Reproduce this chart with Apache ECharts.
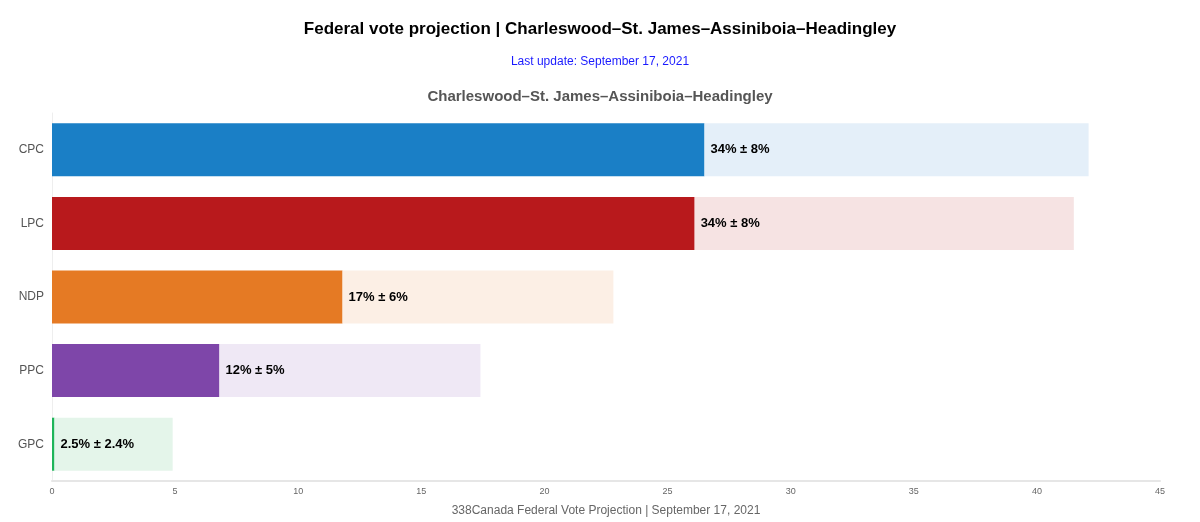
<!DOCTYPE html>
<html>
<head>
<meta charset="utf-8">
<title>Federal vote projection</title>
<script src="https://cdn.jsdelivr.net/npm/echarts@6/dist/echarts.min.js"></script>
<style>
  html, body { margin: 0; padding: 0; background: #fff; }
  #chart { width: 1200px; height: 522px; }
</style>
</head>
<body>
<div id="chart"></div>
<script>
// parties, top to bottom
const parties = ['CPC', 'LPC', 'NDP', 'PPC', 'GPC'];
// projected share and margin (label text)
const projected = ['34', '34', '17', '12', '2.5'];
const margins = ['8', '8', '6', '5', '2.4'];
// low end of the range (solid bar) and high end (pale bar end)
const lowValues = [26.5, 26.1, 11.8, 6.8, 0.1];
const highValues = [42.1, 41.5, 22.8, 17.4, 4.9];
const xTicks = [0, 5, 10, 15, 20, 25, 30, 35, 40, 45];

const solidColors = ['#1a7fc6', '#b8191c', '#e57a24', '#7e46a9', '#1fb55a'];
const paleColors = ['#e4eff9', '#f6e3e3', '#fcefe5', '#efe8f5', '#e4f5ea'];

const font = '"Liberation Sans", Arial, sans-serif';

const chart = echarts.init(document.getElementById('chart'));

const option = {
  backgroundColor: '#fff',
  animation: false,
  textStyle: { fontFamily: font },
  title: [
    {
      text: 'Federal vote projection | Charleswood–St. James–Assiniboia–Headingley',
      left: 'center',
      top: 16,
      textStyle: { fontFamily: font, fontSize: 17, fontWeight: 'bold', color: '#000' }
    },
    {
      text: 'Last update: September 17, 2021',
      left: 'center',
      top: 51,
      textStyle: { fontFamily: font, fontSize: 12, fontWeight: 'normal', color: '#1a1aff' }
    },
    {
      text: 'Charleswood–St. James–Assiniboia–Headingley',
      left: 'center',
      top: 84,
      textStyle: { fontFamily: font, fontSize: 15, fontWeight: 'bold', color: '#555' }
    }
  ],
  grid: {
    left: 52,
    right: 40,
    top: 113,
    bottom: 37
  },
  xAxis: {
    type: 'value',
    min: 0,
    max: 45,
    interval: 5,
    name: '338Canada Federal Vote Projection | September 17, 2021',
    nameLocation: 'middle',
    nameGap: 24,
    nameTextStyle: { fontFamily: font, fontSize: 12, color: '#666' },
    axisLine: { show: true, lineStyle: { color: '#e6e6e6', width: 2 } },
    axisTick: { show: false },
    splitLine: { show: false },
    axisLabel: {
      color: '#666',
      fontSize: 9,
      margin: 6,
      formatter: v => (xTicks.includes(v) ? String(v) : '')
    }
  },
  yAxis: {
    type: 'category',
    inverse: true,
    data: parties,
    axisLine: { show: true, lineStyle: { color: '#eeeeee' } },
    axisTick: { show: false },
    axisLabel: { color: '#555', fontSize: 12, margin: 8 }
  },
  series: [
    {
      name: 'low',
      type: 'bar',
      stack: 'range',
      barWidth: '72%',
      data: lowValues.map((v, i) => ({
        value: v,
        itemStyle: { color: solidColors[i] }
      }))
    },
    {
      name: 'range',
      type: 'bar',
      stack: 'range',
      barWidth: '72%',
      data: highValues.map((v, i) => ({
        value: +(v - lowValues[i]).toFixed(2),
        itemStyle: { color: paleColors[i] }
      })),
      label: {
        show: true,
        position: 'insideLeft',
        distance: 6,
        color: '#000',
        fontSize: 13,
        fontWeight: 'bold',
        fontFamily: font,
        formatter: p => `${projected[p.dataIndex]}% ± ${margins[p.dataIndex]}%`
      }
    }
  ]
};

chart.setOption(option);
window.addEventListener('resize', () => chart.resize());
</script>
</body>
</html>
